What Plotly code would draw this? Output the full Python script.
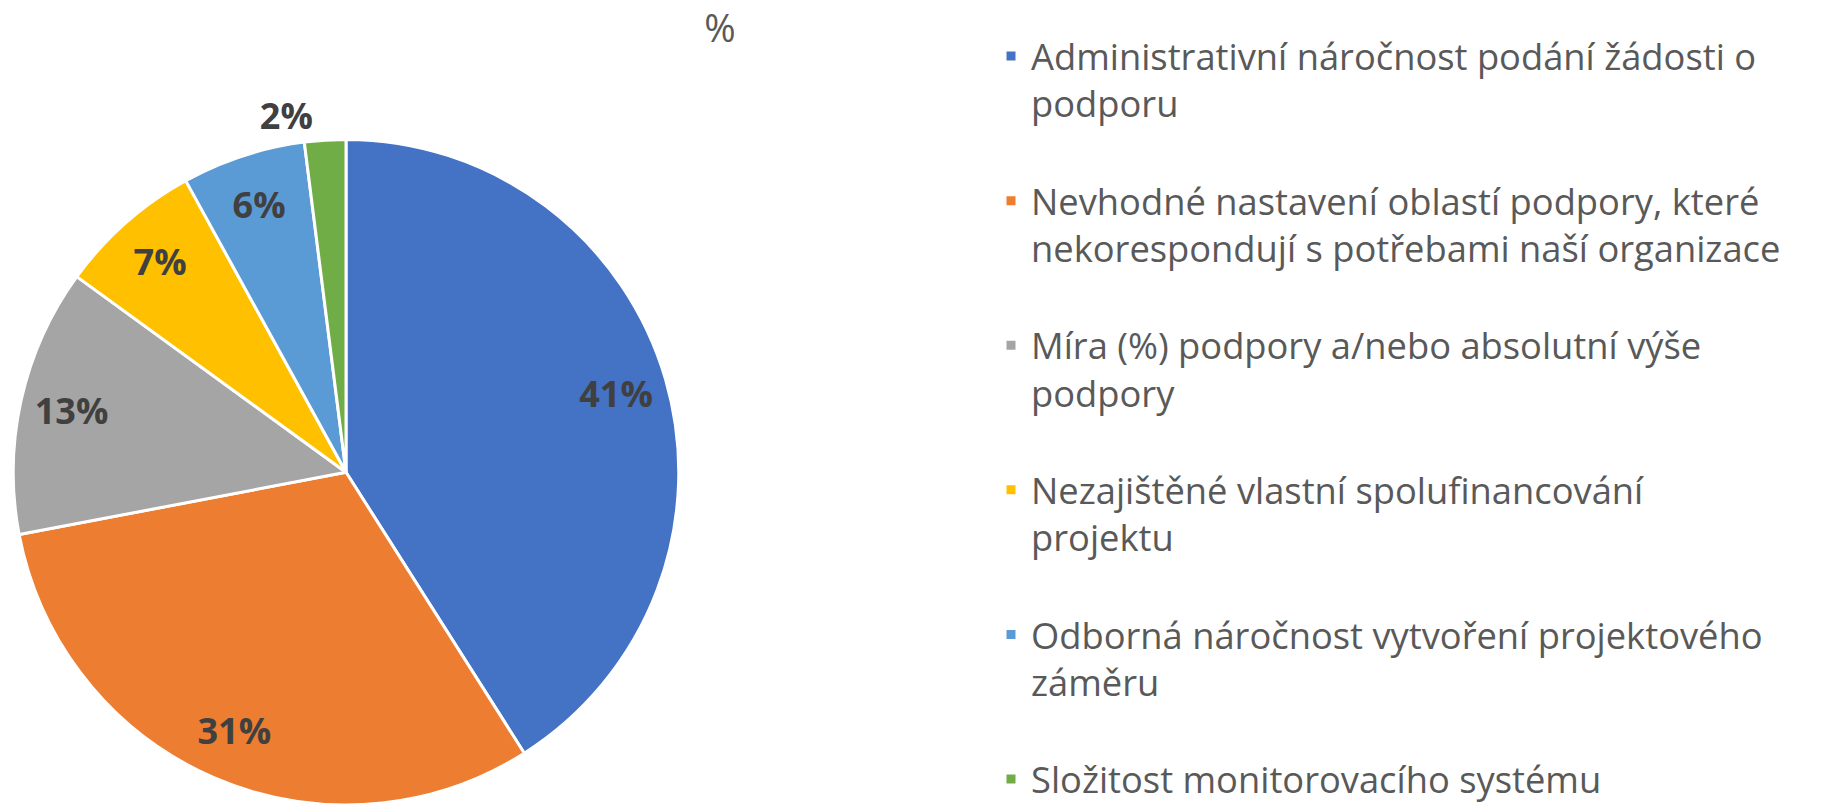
import plotly.graph_objects as go

labels = [
    "Administrativní náročnost podání žádosti o<br>podporu<br> ",
    "Nevhodné nastavení oblastí podpory, které<br>nekorespondují s potřebami naší organizace<br> ",
    "Míra (%) podpory a/nebo absolutní výše<br>podpory<br> ",
    "Nezajištěné vlastní spolufinancování<br>projektu<br> ",
    "Odborná náročnost vytvoření projektového<br>záměru<br> ",
    "Složitost monitorovacího systému",
]
values = [41, 31, 13, 7, 6, 2]
colors = ["#4472C4", "#ED7D31", "#A5A5A5", "#FFC000", "#5B9BD5", "#70AD47"]
label_outside = [False, False, False, False, False, True]
title_text = "%"

W, H = 1821, 810
cx, cy, r = 346, 474, 334
domain = dict(x=[(cx - r) / W, (cx + r) / W], y=[1 - (cy + r) / H, 1 - (cy - r) / H])
label_font = dict(family="Open Sans", size=36, color="#404040", weight="bold")

# main pie: slices, legend and the outside label of the small slice
main_tpl = ["%{value}%" if o else "" for o in label_outside]
fig = go.Figure(
    go.Pie(
        labels=labels,
        values=values,
        sort=False,
        direction="clockwise",
        rotation=0,
        marker=dict(colors=colors, line=dict(color="white", width=3)),
        texttemplate=main_tpl,
        textposition=["outside" if o else "inside" for o in label_outside],
        textfont=label_font,
        outsidetextfont=label_font,
        insidetextfont=label_font,
        domain=domain,
        hoverinfo="label+value",
    )
)

# transparent ring overlay carrying the inside labels (placed near the rim, like Excel)
ring_tpl = ["" if o else "%{value}%" for o in label_outside]
fig.add_trace(
    go.Pie(
        labels=labels,
        values=values,
        sort=False,
        direction="clockwise",
        rotation=0,
        hole=0.69,
        marker=dict(colors=["rgba(0,0,0,0)"] * len(values), line=dict(width=0)),
        texttemplate=ring_tpl,
        textposition="inside",
        insidetextorientation="horizontal",
        insidetextfont=label_font,
        domain=domain,
        showlegend=False,
        hoverinfo="skip",
    )
)

fig.update_layout(
    width=W,
    height=H,
    margin=dict(l=0, r=0, t=0, b=0),
    paper_bgcolor="white",
    plot_bgcolor="white",
    title=dict(
        text=title_text,
        x=720 / W,
        xanchor="center",
        y=1 - 29 / H,
        yanchor="middle",
        font=dict(family="Open Sans", size=38, color="#595959"),
    ),
    legend=dict(
        x=991 / W,
        xanchor="left",
        y=1 - 37 / H,
        yanchor="top",
        valign="top",
        font=dict(family="Open Sans", size=36.3, color="#595959"),
        bgcolor="rgba(0,0,0,0)",
    ),
    showlegend=True,
)

fig.write_html("out.html")
